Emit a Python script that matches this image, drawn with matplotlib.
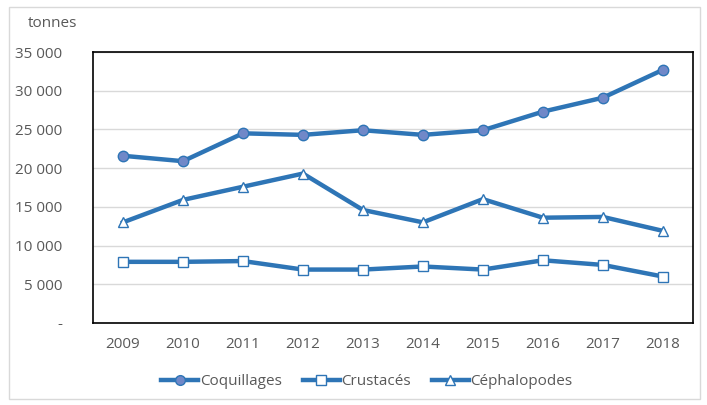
import matplotlib.pyplot as plt
from matplotlib.lines import Line2D
from matplotlib.patches import Rectangle
from matplotlib.ticker import FuncFormatter

years = [2009, 2010, 2011, 2012, 2013, 2014, 2015, 2016, 2017, 2018]
coquillages = [21600, 20900, 24500, 24300, 24900, 24300, 24900, 27300, 29100, 32700]
crustaces = [7900, 7900, 8000, 6900, 6900, 7300, 6900, 8100, 7500, 6000]
cephalopodes = [13000, 15900, 17600, 19300, 14600, 13000, 16000, 13600, 13700, 11900]

blue = '#2E75B6'
grey = '#595959'
plt.rcParams['font.family'] = ['Open Sans', 'DejaVu Sans']

fig = plt.figure(figsize=(7.07, 4.05), dpi=100)
ax = fig.add_axes([0.1315, 0.2025, 0.8485, 0.669])

x = list(range(len(years)))
ax.plot(x, coquillages, color=blue, lw=3.2, marker='o', ms=7.5,
        markerfacecolor='#7088C8', markeredgecolor=blue, markeredgewidth=1, label='Coquillages')
ax.plot(x, crustaces, color=blue, lw=3.2, marker='s', ms=7,
        markerfacecolor='white', markeredgecolor=blue, markeredgewidth=1, label='Crustacés')
ax.plot(x, cephalopodes, color=blue, lw=3.2, marker='^', ms=7,
        markerfacecolor='white', markeredgecolor=blue, markeredgewidth=1, label='Céphalopodes')

ax.set_xlim(-0.5, len(years) - 0.5)
ax.set_ylim(0, 35000)
ax.set_yticks(range(0, 35001, 5000))
ax.yaxis.set_major_formatter(FuncFormatter(
    lambda v, p: '-' if v == 0 else f'{int(v):,}'.replace(',', ' ')))
ax.set_xticks(x)
ax.set_xticklabels([str(y) for y in years])
ax.grid(axis='y', color='#D9D9D9', lw=1)
ax.set_axisbelow(True)
ax.tick_params(length=0, labelsize=11, labelcolor=grey)
ax.tick_params(axis='y', pad=22)
ax.tick_params(axis='x', pad=10)
for s in ax.spines.values():
    s.set_color('black')
    s.set_linewidth(1.2)

fig.text(0.04, 0.943, 'tonnes', fontsize=11, color=grey, ha='left', va='center')

handles = [Line2D([], [], color=blue, lw=3.2, marker='o', ms=7, markerfacecolor='#7088C8',
                  markeredgecolor=blue),
           Line2D([], [], color=blue, lw=3.2, marker='s', ms=6.5, markerfacecolor='white',
                  markeredgecolor=blue),
           Line2D([], [], color=blue, lw=3.2, marker='^', ms=6.5, markerfacecolor='white',
                  markeredgecolor=blue)]
fig.legend(handles, ['Coquillages', 'Crustacés', 'Céphalopodes'], loc='center',
           bbox_to_anchor=(0.519, 0.057), ncol=3, frameon=False, fontsize=11,
           labelcolor=grey, handlelength=2.4, handletextpad=0.1, columnspacing=1.4)

fig.patches.append(Rectangle((0.013, 0.015), 0.977, 0.968, transform=fig.transFigure,
                             fill=False, edgecolor='#D9D9D9', lw=1))

fig.savefig('out.png', dpi=100)
